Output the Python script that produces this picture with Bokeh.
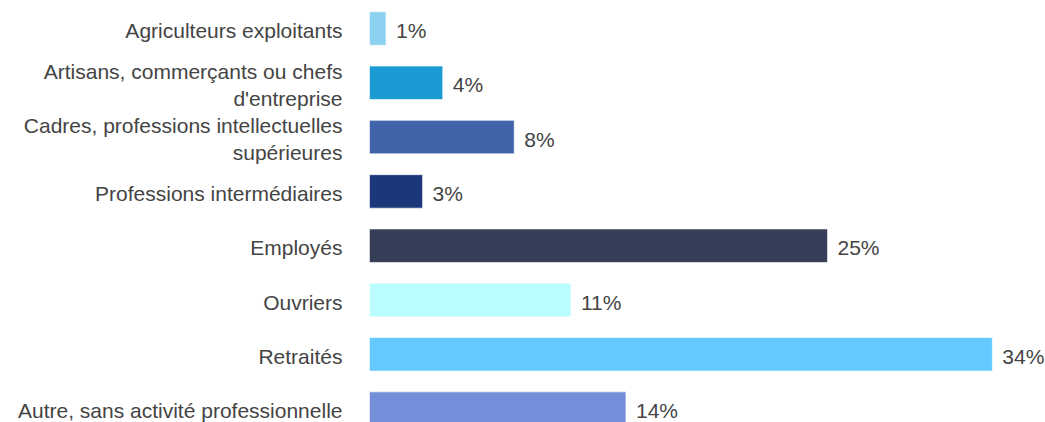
from bokeh.plotting import figure
from bokeh.models import ColumnDataSource, Range1d
from bokeh.core.properties import value
from bokeh.embed import file_html
from bokeh.resources import INLINE

categories = [
    "Agriculteurs exploitants",
    "Artisans, commerçants ou chefs\nd'entreprise",
    "Cadres, professions intellectuelles\nsupérieures",
    "Professions intermédiaires",
    "Employés",
    "Ouvriers",
    "Retraités",
    "Autre, sans activité professionnelle",
]
values = [0.9, 4.0, 7.9, 2.9, 25.0, 11.0, 34.0, 14.0]
value_labels = ["1%", "4%", "8%", "3%", "25%", "11%", "34%", "14%"]
colors = ["#8DD1F1", "#1A9BD3", "#4163A9", "#1B387A", "#363D57", "#BAFDFE", "#63C9FF", "#7490DB"]

pos = list(range(len(categories)))
src = ColumnDataSource(dict(y=pos, v=values, cat=categories, lab=value_labels,
                            color=colors, zero=[0] * len(pos)))

p = figure(width=1045, height=422, output_backend="svg", toolbar_location=None,
           x_range=Range1d(-20.14, 36.9), y_range=Range1d(7.256, -0.516),
           min_border=0, min_border_left=0, min_border_right=0,
           min_border_top=0, min_border_bottom=0)
p.axis.visible = False
p.grid.visible = False
p.outline_line_color = None
p.background_fill_color = "white"
p.border_fill_color = "white"

p.hbar(y="y", left="zero", right="v", height=0.617, fill_color="color",
       line_color="white", line_alpha=0.6, line_width=1, source=src)

p.text(x="zero", y="y", text="cat", source=src, x_offset=-27, y_offset=2,
       text_align="right", text_baseline="middle", text_color="#444444",
       text_font=value("Liberation Sans"), text_font_size="21px", text_line_height=1.2)

p.text(x="v", y="y", text="lab", source=src, x_offset=10, y_offset=2,
       text_align="left", text_baseline="middle", text_color="#444444",
       text_font=value("Liberation Sans"), text_font_size="21px")

open("out.html", "w").write(file_html(p, INLINE))
